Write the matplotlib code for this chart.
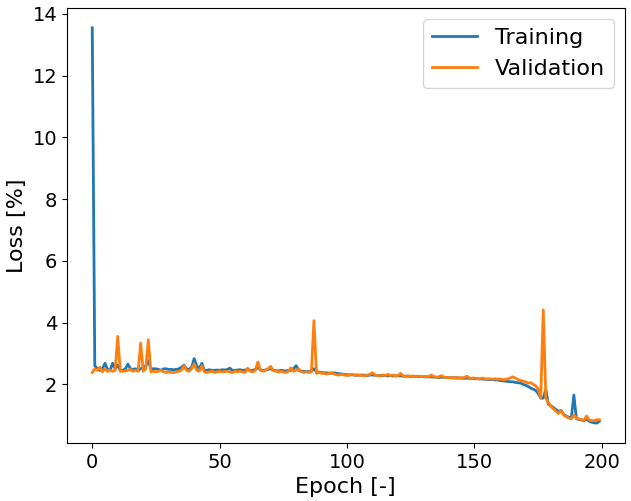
import matplotlib
matplotlib.use("Agg")
import matplotlib.pyplot as plt
import numpy as np

training = [
    13.55, 2.6, 2.5, 2.45, 2.5, 2.68, 2.48, 2.45, 2.68, 2.5,
    2.62, 2.45, 2.45, 2.5, 2.65, 2.5, 2.48, 2.5, 2.45, 2.5,
    2.55, 2.6, 2.76, 2.5, 2.5, 2.5, 2.48, 2.45, 2.5, 2.5,
    2.48, 2.48, 2.47, 2.48, 2.5, 2.55, 2.62, 2.5, 2.48, 2.55,
    2.83, 2.6, 2.5, 2.68, 2.45, 2.45, 2.47, 2.45, 2.45, 2.46,
    2.45, 2.47, 2.46, 2.48, 2.52, 2.45, 2.45, 2.46, 2.47, 2.45,
    2.46, 2.47, 2.45, 2.45, 2.48, 2.55, 2.46, 2.45, 2.46, 2.48,
    2.5, 2.46, 2.44, 2.43, 2.45, 2.44, 2.43, 2.45, 2.45, 2.5,
    2.6, 2.45, 2.42, 2.42, 2.41, 2.41, 2.42, 2.5, 2.4, 2.38,
    2.38, 2.37, 2.37, 2.36, 2.36, 2.37, 2.35, 2.34, 2.33, 2.32,
    2.31, 2.3, 2.31, 2.29, 2.3, 2.29, 2.3, 2.29, 2.28, 2.3,
    2.3, 2.29, 2.28, 2.29, 2.28, 2.28, 2.27, 2.28, 2.27, 2.27,
    2.28, 2.27, 2.26, 2.26, 2.26, 2.25, 2.26, 2.25, 2.25, 2.25,
    2.24, 2.24, 2.24, 2.24, 2.23, 2.23, 2.22, 2.23, 2.22, 2.22,
    2.21, 2.21, 2.21, 2.2, 2.2, 2.2, 2.19, 2.2, 2.19, 2.18,
    2.18, 2.18, 2.17, 2.17, 2.16, 2.16, 2.15, 2.15, 2.14, 2.14,
    2.12, 2.11, 2.1, 2.09, 2.08, 2.08, 2.06, 2.05, 2.04, 2.0,
    1.97, 1.93, 1.88, 1.84, 1.8, 1.7, 1.55, 1.55, 1.83, 1.35,
    1.3, 1.24, 1.18, 1.12, 1.15, 1.02, 0.97, 0.93, 0.9, 1.65,
    0.88, 0.86, 0.84, 0.82, 0.88, 0.8, 0.77, 0.75, 0.74, 0.8,
]

validation = [
    2.38, 2.5, 2.45, 2.55, 2.4, 2.5, 2.42, 2.45, 2.42, 2.45,
    3.55, 2.42, 2.42, 2.43, 2.45, 2.48, 2.42, 2.45, 2.42, 3.33,
    2.42, 2.5, 3.44, 2.4, 2.42, 2.4, 2.42, 2.45, 2.4, 2.38,
    2.4, 2.38, 2.38, 2.4, 2.42, 2.45, 2.6, 2.45, 2.42, 2.5,
    2.66, 2.45, 2.42, 2.6, 2.4, 2.38, 2.4, 2.42, 2.38, 2.4,
    2.42, 2.4, 2.41, 2.42, 2.4, 2.38, 2.42, 2.4, 2.42, 2.4,
    2.38, 2.52, 2.42, 2.4, 2.45, 2.72, 2.45, 2.42, 2.45, 2.5,
    2.58, 2.45, 2.42, 2.4, 2.42, 2.4, 2.38, 2.42, 2.53, 2.42,
    2.45, 2.5, 2.42, 2.38, 2.4, 2.38, 2.4, 4.06, 2.35, 2.4,
    2.35, 2.35, 2.33, 2.35, 2.37, 2.33, 2.3, 2.3, 2.32, 2.3,
    2.28, 2.3, 2.32, 2.3, 2.28, 2.3, 2.28, 2.27, 2.3, 2.32,
    2.37, 2.3, 2.28, 2.27, 2.3, 2.28, 2.32, 2.28, 2.3, 2.27,
    2.28, 2.35, 2.27, 2.26, 2.27, 2.26, 2.26, 2.25, 2.26, 2.25,
    2.25, 2.24, 2.24, 2.3, 2.25, 2.22, 2.24, 2.28, 2.23, 2.22,
    2.22, 2.21, 2.2, 2.22, 2.21, 2.2, 2.22, 2.26, 2.2, 2.19,
    2.2, 2.18, 2.18, 2.2, 2.18, 2.17, 2.18, 2.16, 2.18, 2.16,
    2.17, 2.15, 2.15, 2.17, 2.2, 2.24, 2.2, 2.16, 2.12, 2.1,
    2.08, 2.04, 2.05, 2.0, 1.95, 1.85, 1.56, 4.41, 1.55, 1.4,
    1.28, 1.2, 1.12, 1.05, 1.15, 1.0, 0.95, 0.9, 0.88, 1.0,
    0.9, 0.88, 0.85, 0.84, 0.97, 0.85, 0.82, 0.82, 0.85, 0.85,
]

epochs = np.arange(len(training))

fig = plt.figure(figsize=(6.31, 5.01), dpi=100)
ax = fig.add_axes([0.106, 0.116, 0.884, 0.868])
ax.plot(epochs, training, color="#1f77b4", lw=2, label="Training")
ax.plot(epochs, validation, color="#ff7f0e", lw=2, label="Validation")
ax.set_xlabel("Epoch [-]", fontsize=16)
ax.set_ylabel("Loss [%]", fontsize=16)
ax.tick_params(labelsize=14)
ax.set_xticks([0, 50, 100, 150, 200])
ax.set_yticks([2, 4, 6, 8, 10, 12, 14])
ax.legend(fontsize=16, loc="upper right")
fig.savefig("out.png", dpi=100)
